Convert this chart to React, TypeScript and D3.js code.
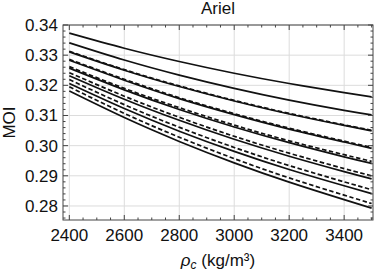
import * as d3 from 'd3'
import { useEffect, useRef } from 'react'

// core density (kg/m3) sample points
const rho = [2400, 2600, 2800, 3000, 3200, 3400, 3500]

// solid curves, top to bottom
const solid1 = [0.3373, 0.3323, 0.3279, 0.324, 0.3206, 0.3176, 0.3162]
const solid2 = [0.3341, 0.3284, 0.3234, 0.319, 0.3151, 0.3117, 0.3102]
const solid3 = [0.3311, 0.325, 0.3196, 0.3148, 0.3105, 0.3067, 0.3049]
const solid4 = [0.3283, 0.3217, 0.3156, 0.3103, 0.3055, 0.3012, 0.2991]
const solid5 = [0.3257, 0.3185, 0.312, 0.3062, 0.301, 0.2963, 0.2941]
const solid6 = [0.3232, 0.3154, 0.3084, 0.3021, 0.2965, 0.2914, 0.289]
const solid7 = [0.3206, 0.3123, 0.3048, 0.2981, 0.2921, 0.2867, 0.2841]
const solid8 = [0.3181, 0.3093, 0.3014, 0.2943, 0.2879, 0.2821, 0.2793]

// dashed curves
const dashed3 = [0.3313, 0.3252, 0.3198, 0.315, 0.3107, 0.3069, 0.3051]
const dashed4 = [0.3286, 0.322, 0.3159, 0.3106, 0.3058, 0.3015, 0.2994]
const dashed5 = [0.3262, 0.319, 0.3126, 0.3068, 0.3016, 0.297, 0.2948]
const dashed6 = [0.3242, 0.3164, 0.3094, 0.3031, 0.2975, 0.2924, 0.29]
const dashed7 = [0.3219, 0.3136, 0.3061, 0.2994, 0.2934, 0.288, 0.2854]
const dashed8 = [0.3195, 0.3107, 0.3028, 0.2957, 0.2893, 0.2836, 0.2808]

const xTicks = [2400, 2600, 2800, 3000, 3200, 3400]
const yTicks = [0.28, 0.29, 0.3, 0.31, 0.32, 0.33, 0.34]

const W = 379
const H = 273
const FONT = "'Liberation Sans', Arial, sans-serif"
const FS = 17

export default function App() {
  const ref = useRef<SVGSVGElement>(null)

  useEffect(() => {
    const svg = d3.select(ref.current)
    svg.selectAll('*').remove()

    const left = 63, right = 373, top = 25, bottom = 220
    const x = d3.scaleLinear().domain([2377, 3505]).range([left, right])
    const y = d3.scaleLinear().domain([0.27535, 0.34]).range([bottom, top])

    // grid
    const grid = svg.append('g').attr('stroke', '#dcdcdc').attr('stroke-width', 1)
    xTicks.forEach(t => {
      grid.append('line').attr('x1', x(t)).attr('x2', x(t)).attr('y1', top).attr('y2', bottom)
    })
    yTicks.forEach(t => {
      grid.append('line').attr('x1', left).attr('x2', right).attr('y1', y(t)).attr('y2', y(t))
    })

    // curves
    const line = d3.line<number>()
      .x((_, i) => x(rho[i]))
      .y(d => y(d))
      .curve(d3.curveNatural)

    const g = svg.append('g').attr('fill', 'none').attr('stroke', '#111').attr('stroke-width', 1.7)
    ;[solid1, solid2, solid3, solid4, solid5, solid6, solid7, solid8].forEach(s => {
      g.append('path').attr('d', line(s))
    })
    ;[dashed3, dashed4, dashed5, dashed6, dashed7, dashed8].forEach(s => {
      g.append('path').attr('d', line(s)).attr('stroke-dasharray', '4.5,2.5')
    })

    // frame
    svg.append('rect')
      .attr('x', left).attr('y', top).attr('width', right - left).attr('height', bottom - top)
      .attr('fill', 'none').attr('stroke', '#444').attr('stroke-width', 1)

    // ticks
    const tk = svg.append('g').attr('stroke', '#444').attr('stroke-width', 1)
    d3.range(2400, 3501, 50).forEach(t => {
      const len = t % 200 === 0 ? 5 : 2.5
      tk.append('line').attr('x1', x(t)).attr('x2', x(t)).attr('y1', bottom).attr('y2', bottom - len)
      tk.append('line').attr('x1', x(t)).attr('x2', x(t)).attr('y1', top).attr('y2', top + len)
    })
    d3.range(138, 171).map(k => k * 0.002).forEach(t => {
      if (t < 0.2754 || t > 0.3401) return
      const major = Math.abs(t * 100 - Math.round(t * 100)) < 1e-6
      const len = major ? 5 : 2.5
      tk.append('line').attr('y1', y(t)).attr('y2', y(t)).attr('x1', left).attr('x2', left + len)
      tk.append('line').attr('y1', y(t)).attr('y2', y(t)).attr('x1', right).attr('x2', right - len)
    })

    // tick labels
    const lbl = svg.append('g').attr('font-family', FONT).attr('font-size', FS).attr('fill', '#111')
    xTicks.forEach(t => {
      lbl.append('text').attr('x', x(t)).attr('y', 241).attr('text-anchor', 'middle').text(String(t))
    })
    yTicks.forEach(t => {
      lbl.append('text').attr('x', 58).attr('y', y(t) + 6).attr('text-anchor', 'end').text(d3.format('.2f')(t))
    })

    // title
    svg.append('text').attr('x', (left + right) / 2).attr('y', 14)
      .attr('text-anchor', 'middle').attr('font-family', FONT).attr('font-size', FS).attr('fill', '#111')
      .text('Ariel')

    // axis labels
    const xl = svg.append('text').attr('x', (left + right) / 2).attr('y', 266)
      .attr('text-anchor', 'middle').attr('font-family', FONT).attr('font-size', FS).attr('fill', '#111')
    xl.append('tspan').attr('font-style', 'italic').text('ρ')
    xl.append('tspan').attr('font-style', 'italic').attr('font-size', 12).attr('dy', 3).text('c')
    xl.append('tspan').attr('dy', -3).text(' (kg/m³)')

    svg.append('text')
      .attr('transform', `translate(15,${(top + bottom) / 2}) rotate(-90)`)
      .attr('text-anchor', 'middle').attr('font-family', FONT).attr('font-size', FS).attr('fill', '#111')
      .text('MOI')
  }, [])

  return (
    <svg ref={ref} width={W} height={H}
      style={{ position: 'absolute', left: 0, top: 0, background: '#fff' }} />
  )
}
